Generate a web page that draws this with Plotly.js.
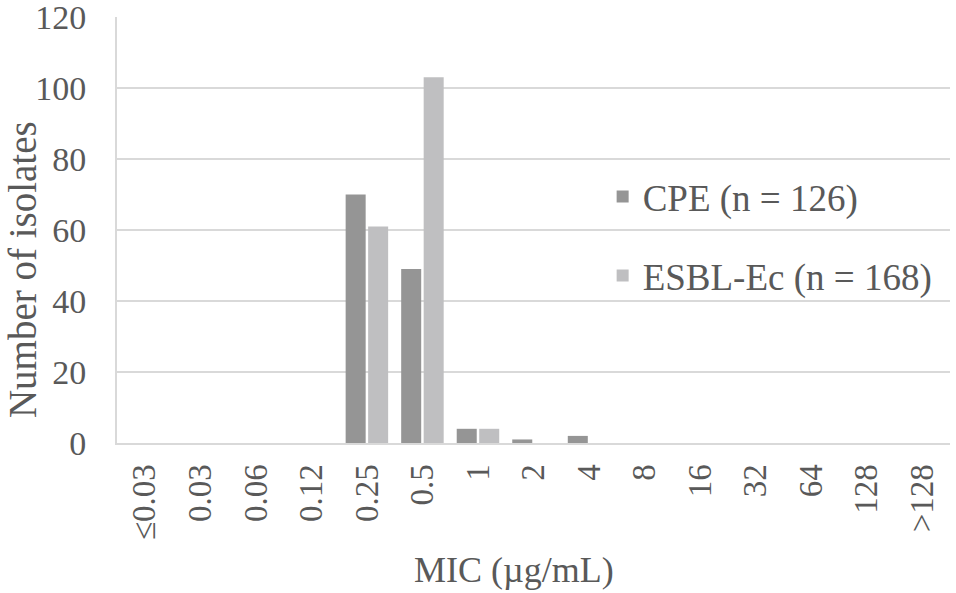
<!DOCTYPE html>
<html>
<head>
<meta charset="utf-8">
<script src="https://cdn.plot.ly/plotly-3.0.1.min.js"></script>
<style>
  html, body { margin: 0; padding: 0; background: #fff; }
  #chart { width: 956px; height: 593px; }
</style>
</head>
<body>
<div id="chart"></div>
<script>
// MIC categories (µg/mL)
const micLabels = ['≤0.03', '0.03', '0.06', '0.12', '0.25', '0.5', '1', '2', '4', '8', '16', '32', '64', '128', '>128']
// number of isolates per MIC
const cpeCounts = [0, 0, 0, 0, 70, 49, 4, 1, 2, 0, 0, 0, 0, 0, 0]
const esblCounts = [0, 0, 0, 0, 61, 103, 4, 0, 0, 0, 0, 0, 0, 0, 0]
const yTicks = [0, 20, 40, 60, 80, 100, 120]

const serif = 'Liberation Serif, Times New Roman, serif'
const textGray = '#595959'

const traces = [{
  x: micLabels,
  y: cpeCounts,
  name: 'CPE (n = 126)',
  type: 'bar',
  legendgroup: 'cpe',
  marker: { color: '#959595' }
}, {
  x: micLabels,
  y: esblCounts,
  name: 'ESBL-Ec (n = 168)',
  type: 'bar',
  legendgroup: 'esbl',
  marker: { color: '#bfbfc1' }
}]

const layout = {
  width: 956,
  height: 593,
  margin: { l: 117, r: 6, t: 17, b: 150 },
  paper_bgcolor: '#fff',
  plot_bgcolor: '#fff',
  barmode: 'group',
  bargap: 0.19,
  bargroupgap: 0.11,
  font: { family: serif, color: textGray },
  xaxis: {
    type: 'category',
    automargin: false,
    tickangle: -90,
    tickfont: { size: 33, color: textGray },
    ticklabelstandoff: 6,
    showgrid: false,
    showline: true,
    linecolor: '#d9d9d9',
    linewidth: 2,
    ticks: ''
  },
  yaxis: {
    range: [0, 120],
    automargin: false,
    tickvals: yTicks,
    tickfont: { size: 34, color: textGray },
    ticklabelstandoff: 22,
    ticklabeloverflow: 'allow',
    showgrid: true,
    gridcolor: '#d9d9d9',
    gridwidth: 2,
    zeroline: false,
    showline: true,
    linecolor: '#d9d9d9',
    linewidth: 2,
    ticks: ''
  },
  // axis titles placed as in the original (slightly off-centre)
  annotations: [{
    text: 'Number of isolates',
    xref: 'paper',
    yref: 'paper',
    x: -0.114,
    y: 0.406,
    xanchor: 'center',
    yanchor: 'middle',
    textangle: -90,
    showarrow: false,
    font: { size: 39, color: textGray }
  }, {
    text: 'MIC (µg/mL)',
    xref: 'paper',
    yref: 'paper',
    x: 0.4766,
    y: -0.298,
    xanchor: 'center',
    yanchor: 'middle',
    showarrow: false,
    font: { size: 36, color: textGray }
  }],
  legend: {
    x: 0.583,
    y: 0.485,
    xanchor: 'left',
    yanchor: 'middle',
    bgcolor: 'rgba(0,0,0,0)',
    font: { size: 37, color: textGray },
    traceorder: 'grouped',
    tracegroupgap: 28,
    itemwidth: 30
  },
  showlegend: true
}

Plotly.newPlot('chart', traces, layout, { displayModeBar: false, staticPlot: true })
</script>
</body>
</html>
